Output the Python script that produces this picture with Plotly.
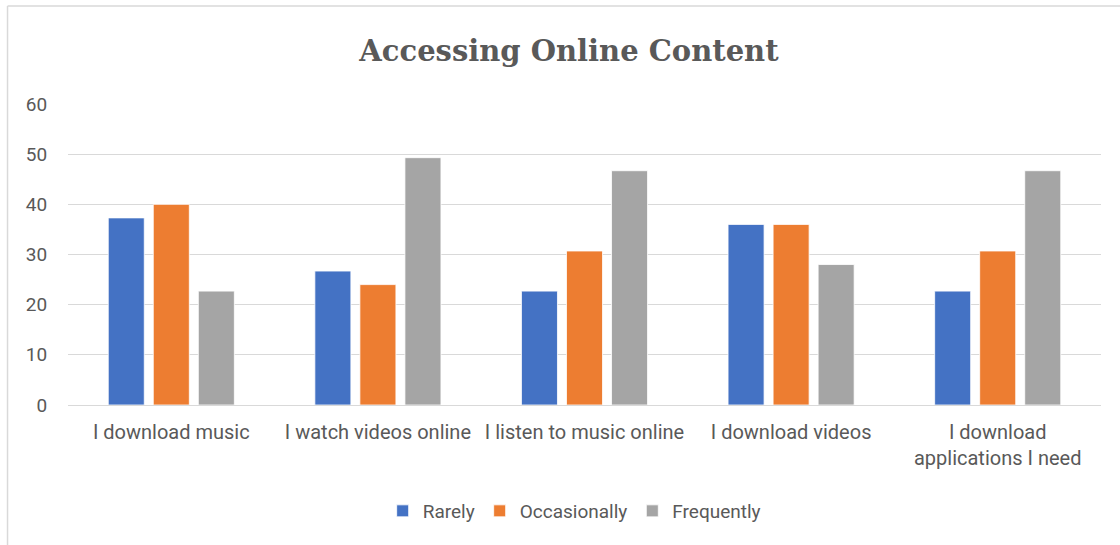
import plotly.graph_objects as go

categories = ["I download music", "I watch videos online", "I listen to music online",
              "I download videos", "I download<br>applications I need"]
rarely = [37.3, 26.7, 22.7, 36.0, 22.7]
occasionally = [40.0, 24.0, 30.7, 36.0, 30.7]
frequently = [22.7, 49.3, 46.7, 28.0, 46.7]
series_names = ["Rarely", "Occasionally", "Frequently"]
colors = ["#4472C4", "#ED7D31", "#A5A5A5"]
y_ticks = [0, 10, 20, 30, 40, 50, 60]

fig = go.Figure()
for name, vals, c in zip(series_names, [rarely, occasionally, frequently], colors):
    fig.add_trace(go.Bar(name=name, x=categories, y=vals, marker_color=c,
                         marker_line=dict(color="white", width=0.8)))

W, H = 1120, 545
L, R, T, B = 68, 18.5, 104, 140
pw, ph = W - L - R, H - T - B

fig.update_layout(
    width=W, height=H,
    margin=dict(l=L, r=R, t=T, b=B),
    paper_bgcolor="white", plot_bgcolor="white",
    barmode="group", bargap=0.346, bargroupgap=0.2,
    title=dict(text="Accessing Online Content", x=0.508, xanchor="center",
               y=1 - 51 / H, yanchor="middle",
               font=dict(family="DejaVu Serif", size=29, color="#595959", weight="bold")),
    font=dict(family="Roboto, sans-serif", size=19, color="#595959"),
    legend=dict(orientation="h", x=0.49, xanchor="center", y=(405 - 511) / ph,
                yanchor="middle", font=dict(size=19, color="#595959"),
                itemwidth=30, traceorder="normal"),
    showlegend=True,
)
fig.update_yaxes(range=[0, 60], tickvals=y_ticks, showgrid=True, gridcolor="#D9D9D9",
                 gridwidth=1, zeroline=False, showline=False,
                 ticks="outside", ticklen=16, tickcolor="rgba(0,0,0,0)",
                 tickfont=dict(size=19, color="#595959"))
fig.update_xaxes(showline=True, linecolor="#D9D9D9", linewidth=1,
                 ticks="outside", ticklen=9, tickcolor="rgba(0,0,0,0)",
                 tickfont=dict(size=20, color="#595959"), tickangle=0)

# chart-area border (Excel style)
bx = (7.5 - L) / pw
by = (H - B - 6) / ph
fig.add_shape(type="line", xref="paper", yref="paper", x0=bx, x1=bx, y0=-2, y1=by,
              line=dict(color="#D9D9D9", width=1.5))
fig.add_shape(type="line", xref="paper", yref="paper", x0=bx, x1=2, y0=by, y1=by,
              line=dict(color="#D9D9D9", width=1.5))

fig.write_html("out.html")
